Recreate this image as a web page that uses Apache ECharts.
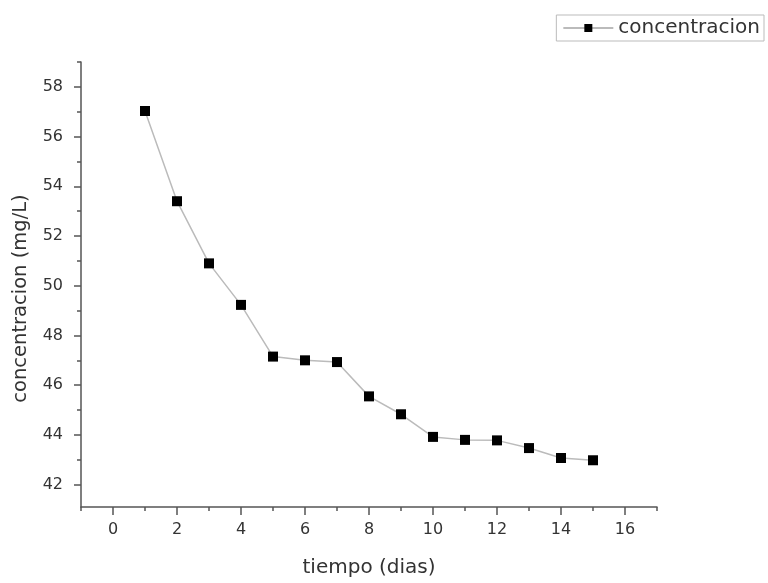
<!DOCTYPE html>
<html><head><meta charset="utf-8">
<script src="https://cdn.jsdelivr.net/npm/echarts@6/dist/echarts.min.js"></script>
<style>html,body{margin:0;padding:0;background:#fff}#c{width:768px;height:583px}</style>
</head><body><div id="c"></div>
<script>
const days = [1,2,3,4,5,6,7,8,9,10,11,12,13,14,15];
const concentracion = [57.03,53.4,50.9,49.23,47.15,47.0,46.93,45.55,44.83,43.92,43.8,43.78,43.47,43.07,42.98];
const xTicks = [0,2,4,6,8,10,12,14,16];
const xMinor = [-1,1,3,5,7,9,11,13,15,17];
const yTicks = [42,44,46,48,50,52,54,56,58];
const yMinor = [43,45,47,49,51,53,55,57,59];
const font = 'DejaVu Sans';
const axisCol = '#555';
const txtCol = '#333';
const chart = echarts.init(document.getElementById('c'));
chart.setOption({
  animation:false,
  textStyle:{fontFamily:font},
  grid:{left:81,right:111,top:62,bottom:74,containLabel:false},
  legend:{
    right:4, top:15, data:['concentracion'],
    borderColor:'#bbb', borderWidth:1, padding:[3,4,3,6],
    itemWidth:50, itemHeight:10, itemGap:8,
    textStyle:{fontFamily:font,fontSize:20,color:txtCol}
  },
  xAxis:[{
    type:'value', min:-1, max:17,
    name:'tiempo (dias)', nameLocation:'middle', nameGap:51,
    nameTextStyle:{fontFamily:font,fontSize:20,color:txtCol},
    axisLine:{show:true,onZero:false,lineStyle:{color:axisCol,width:1.5}},
    axisTick:{show:true,inside:false,length:8,customValues:xTicks,lineStyle:{color:axisCol,width:1.5}},
    axisLabel:{customValues:xTicks,margin:15,fontFamily:font,fontSize:16,color:txtCol},
    splitLine:{show:false}
  },{
    type:'value', min:-1, max:17, position:'bottom', gridIndex:0,
    axisLine:{show:false,onZero:false},
    axisTick:{show:true,length:4,customValues:xMinor,lineStyle:{color:axisCol,width:1.5}},
    axisLabel:{show:false}, splitLine:{show:false}
  }],
  yAxis:[{
    type:'value', min:41.1, max:59,
    name:'concentracion (mg/L)', nameLocation:'middle', nameGap:50, nameRotate:90,
    nameTextStyle:{fontFamily:font,fontSize:19.5,color:txtCol,padding:[0,28,0,0]},
    axisLine:{show:true,onZero:false,lineStyle:{color:axisCol,width:1.5}},
    axisTick:{show:true,length:7,customValues:yTicks,lineStyle:{color:axisCol,width:1.5}},
    axisLabel:{customValues:yTicks,margin:18,fontFamily:font,fontSize:16,color:txtCol},
    splitLine:{show:false}
  },{
    type:'value', min:41.1, max:59, position:'left', gridIndex:0,
    axisLine:{show:false,onZero:false},
    axisTick:{show:true,length:4,customValues:yMinor,lineStyle:{color:axisCol,width:1.5}},
    axisLabel:{show:false}, splitLine:{show:false}
  }],
  series:[{
    name:'concentracion', type:'line',
    data: days.map((d,i)=>[d,concentracion[i]]),
    symbol:'rect', symbolSize:10, showSymbol:true,
    itemStyle:{color:'#000'},
    lineStyle:{color:'#bbb',width:1.5}
  }]
});
</script></body></html>
